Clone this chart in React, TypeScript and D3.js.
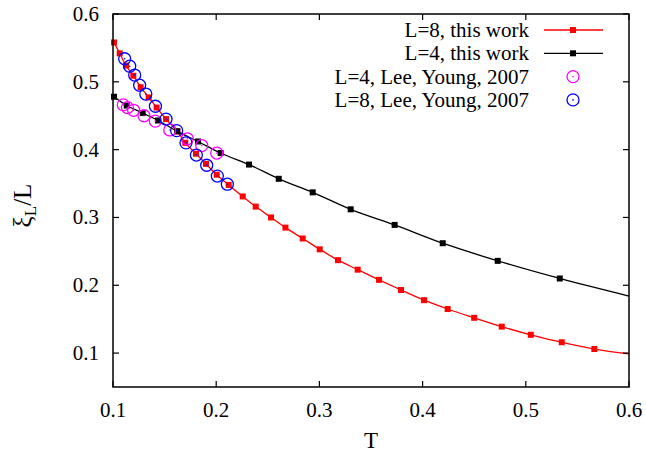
import React from 'react';
import * as d3 from 'd3';

// L=8, this work
const l8T = [0.101, 0.1065, 0.1126, 0.1197, 0.1268, 0.1346, 0.1423, 0.1514, 0.1623, 0.1701, 0.1804, 0.1901, 0.2005, 0.2121, 0.2257, 0.2383, 0.2531, 0.2671, 0.2838, 0.3003, 0.318, 0.3371, 0.3578, 0.3791, 0.4014, 0.4243, 0.45, 0.4767, 0.5048, 0.5348, 0.5664];
const l8V = [0.558, 0.542, 0.524, 0.509, 0.492, 0.477, 0.462, 0.445, 0.427, 0.41, 0.394, 0.379, 0.363, 0.348, 0.331, 0.316, 0.3, 0.285, 0.269, 0.253, 0.237, 0.223, 0.208, 0.193, 0.178, 0.165, 0.152, 0.139, 0.127, 0.116, 0.106];
const l8EndT = 0.6;
const l8EndV = 0.099;

// L=4, this work
const l4T = [0.101, 0.1133, 0.1288, 0.1436, 0.1623, 0.1824, 0.2043, 0.2318, 0.2606, 0.2935, 0.3303, 0.3729, 0.4195, 0.4728, 0.5329];
const l4V = [0.478, 0.465, 0.454, 0.443, 0.427, 0.412, 0.395, 0.378, 0.357, 0.337, 0.312, 0.289, 0.262, 0.236, 0.21];
const l4EndT = 0.6;
const l4EndV = 0.184;

// Lee, Young 2007
const ly4T = [0.11, 0.114, 0.12, 0.13, 0.141, 0.155, 0.172, 0.186, 0.2005];
const ly4V = [0.466, 0.462, 0.458, 0.45, 0.442, 0.429, 0.416, 0.406, 0.395];
const ly8T = [0.1113, 0.1162, 0.121, 0.1258, 0.1318, 0.1411, 0.1514, 0.1617, 0.1707, 0.1808, 0.1908, 0.2011, 0.2108];
const ly8V = [0.534, 0.523, 0.51, 0.495, 0.482, 0.464, 0.445, 0.428, 0.41, 0.392, 0.377, 0.361, 0.349];

const xTicks = [0.1, 0.2, 0.3, 0.4, 0.5, 0.6];
const yTicks = [0.1, 0.2, 0.3, 0.4, 0.5, 0.6];
const legendLabels = ['L=8, this work', 'L=4, this work', 'L=4, Lee, Young, 2007', 'L=8, Lee, Young, 2007'];

const width = 646;
const height = 454;
const margin = { top: 14, right: 17, bottom: 67, left: 113 };
const font = '"Liberation Serif", "Times New Roman", serif';

const App = () => {
  const x = d3.scaleLinear().domain([0.1, 0.6]).range([margin.left, width - margin.right]);
  const y = d3.scaleLinear().domain([0.05, 0.6]).range([height - margin.bottom, margin.top]);
  const [x0, x1] = x.range();
  const [y0, y1] = y.range();

  const line = d3.line<[number, number]>()
    .x(d => x(d[0]))
    .y(d => y(d[1]))
    .curve(d3.curveMonotoneX);

  const l8Line = [...l8T.map((t, i) => [t, l8V[i]] as [number, number]), [l8EndT, l8EndV] as [number, number]];
  const l4Line = [...l4T.map((t, i) => [t, l4V[i]] as [number, number]), [l4EndT, l4EndV] as [number, number]];

  const sq = 6;
  const r = 6;
  const tickLen = 6;

  const legendX = 529;
  const legendRows = [30, 53.3, 76.6, 99.9];

  return (
    <svg width={width} height={height} style={{ position: 'absolute', left: 0, top: 0, background: '#fff' }}>
      <rect width={width} height={height} fill='#fff' />

      {/* curves */}
      <path d={line(l8Line) || ''} fill='none' stroke='#ff0000' strokeWidth={1.3} />
      <path d={line(l4Line) || ''} fill='none' stroke='#000' strokeWidth={1.3} />

      {l8T.map((t, i) =>
        <rect key={`r8-${i}`} x={x(t) - sq / 2} y={y(l8V[i]) - sq / 2} width={sq} height={sq} fill='#ff0000' />
      )}
      {l4T.map((t, i) =>
        <rect key={`r4-${i}`} x={x(t) - sq / 2} y={y(l4V[i]) - sq / 2} width={sq} height={sq} fill='#000' />
      )}
      {ly4T.map((t, i) =>
        <g key={`c4-${i}`}>
          <circle cx={x(t)} cy={y(ly4V[i])} r={r} fill='none' stroke='#ff00ff' strokeWidth={1.3} />
          <circle cx={x(t)} cy={y(ly4V[i])} r={0.8} fill='#ff00ff' />
        </g>
      )}
      {ly8T.map((t, i) =>
        <g key={`c8-${i}`}>
          <circle cx={x(t)} cy={y(ly8V[i])} r={r} fill='none' stroke='#0000ff' strokeWidth={1.3} />
          <circle cx={x(t)} cy={y(ly8V[i])} r={0.8} fill='#0000ff' />
        </g>
      )}

      {/* frame and ticks */}
      <rect x={x0} y={y1} width={x1 - x0} height={y0 - y1} fill='none' stroke='#000' strokeWidth={1.5} />
      {xTicks.map(t =>
        <g key={`xt-${t}`}>
          <line x1={x(t)} x2={x(t)} y1={y0} y2={y0 - tickLen} stroke='#000' strokeWidth={1.2} />
          <line x1={x(t)} x2={x(t)} y1={y1} y2={y1 + tickLen} stroke='#000' strokeWidth={1.2} />
          <text x={x(t)} y={y0 + 30} textAnchor='middle' fontFamily={font} fontSize={21} fill='#000'>{t.toFixed(1)}</text>
        </g>
      )}
      {yTicks.map(t =>
        <g key={`yt-${t}`}>
          <line x1={x0} x2={x0 + tickLen} y1={y(t)} y2={y(t)} stroke='#000' strokeWidth={1.2} />
          <line x1={x1} x2={x1 - tickLen} y1={y(t)} y2={y(t)} stroke='#000' strokeWidth={1.2} />
          <text x={x0 - 14} y={y(t) + 7} textAnchor='end' fontFamily={font} fontSize={21} fill='#000'>{t.toFixed(1)}</text>
        </g>
      )}

      {/* axis titles */}
      <text x={(x0 + x1) / 2} y={448} textAnchor='middle' fontFamily={font} fontSize={23} fill='#000'>T</text>
      <text transform={`translate(31, ${(y0 + y1) / 2 + 5}) rotate(-90)`} textAnchor='middle' fontFamily={font} fontSize={25} fill='#000'>
        ξ<tspan fontSize={17} dy={5}>L</tspan><tspan dy={-5}>/L</tspan>
      </text>

      {/* legend */}
      {legendLabels.map((label, i) =>
        <text key={`lg-${i}`} x={legendX} y={legendRows[i] + 7} textAnchor='end' fontFamily={font} fontSize={21} fill='#000'>{label}</text>
      )}
      <line x1={544} x2={603} y1={legendRows[0]} y2={legendRows[0]} stroke='#ff0000' strokeWidth={1.3} />
      <rect x={573 - sq / 2} y={legendRows[0] - sq / 2} width={sq} height={sq} fill='#ff0000' />
      <line x1={544} x2={603} y1={legendRows[1]} y2={legendRows[1]} stroke='#000' strokeWidth={1.3} />
      <rect x={573 - sq / 2} y={legendRows[1] - sq / 2} width={sq} height={sq} fill='#000' />
      <circle cx={573} cy={legendRows[2]} r={r} fill='none' stroke='#ff00ff' strokeWidth={1.3} />
      <circle cx={573} cy={legendRows[2]} r={0.8} fill='#ff00ff' />
      <circle cx={573} cy={legendRows[3]} r={r} fill='none' stroke='#0000ff' strokeWidth={1.3} />
      <circle cx={573} cy={legendRows[3]} r={0.8} fill='#0000ff' />
    </svg>
  );
};

export default App;
